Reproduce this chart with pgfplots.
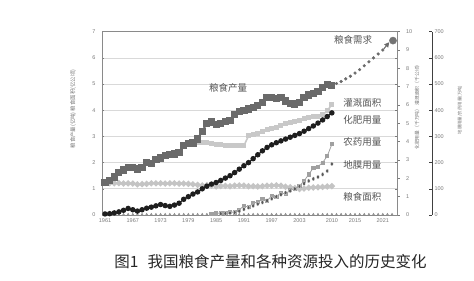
\documentclass[border=0pt]{standalone}
\usepackage{pgfplots}
\pgfplotsset{compat=1.18}
\usepackage{pgfplotstable}
\usepackage{fontspec}
\setmainfont{Liberation Sans}
\newfontfamily\cjk{Noto Sans CJK SC}
\usetikzlibrary{arrows.meta}
\definecolor{prodc}{HTML}{6A6A6A}
\definecolor{fertc}{HTML}{1E1E1E}
\definecolor{irrc}{HTML}{C8C8C8}
\definecolor{areac}{HTML}{C4C4C4}
\definecolor{pestc}{HTML}{A0A0A0}
\definecolor{filmc}{HTML}{5A5A5A}
\definecolor{demc}{HTML}{6A6A6A}
\definecolor{axg}{HTML}{7A7A7A}
\definecolor{frameg}{HTML}{8A8A8A}
\definecolor{labg}{HTML}{555555}

\pgfplotstableread{
year val
1961 1.24
1962 1.32
1963 1.45
1964 1.62
1965 1.72
1966 1.80
1967 1.82
1968 1.76
1969 1.80
1970 2.00
1971 1.96
1972 2.12
1973 2.18
1974 2.26
1975 2.30
1976 2.33
1977 2.40
1978 2.65
1979 2.72
1980 2.75
1981 2.90
1982 3.20
1983 3.50
1984 3.55
1985 3.45
1986 3.50
1987 3.58
1988 3.62
1989 3.85
1990 3.95
1991 3.98
1992 4.05
1993 4.12
1994 4.18
1995 4.30
1996 4.48
1997 4.50
1998 4.45
1999 4.50
2000 4.35
2001 4.25
2002 4.24
2003 4.30
2004 4.50
2005 4.58
2006 4.65
2007 4.72
2008 4.88
2009 4.98
2010 4.95
}\tabprod

\pgfplotstableread{
year val
2011 5.02
2012 5.10
2013 5.20
2014 5.30
2015 5.42
2016 5.55
2017 5.70
2018 5.85
2019 6.00
2020 6.15
2021 6.30
}\tabdem

\pgfplotstableread{
year val
1961 0.04
1962 0.05
1963 0.08
1964 0.12
1965 0.18
1966 0.25
1967 0.20
1968 0.15
1969 0.20
1970 0.26
1971 0.30
1972 0.35
1973 0.40
1974 0.36
1975 0.33
1976 0.38
1977 0.45
1978 0.60
1979 0.70
1980 0.80
1981 0.88
1982 1.00
1983 1.10
1984 1.18
1985 1.24
1986 1.32
1987 1.41
1988 1.50
1989 1.62
1990 1.75
1991 1.88
1992 2.00
1993 2.15
1994 2.30
1995 2.45
1996 2.58
1997 2.68
1998 2.76
1999 2.83
2000 2.90
2001 2.97
2002 3.04
2003 3.11
2004 3.20
2005 3.30
2006 3.40
2007 3.51
2008 3.63
2009 3.76
2010 3.90
}\tabfert

\pgfplotstableread{
year val
1981 2.78
1982 2.77
1983 2.75
1984 2.72
1985 2.70
1986 2.68
1987 2.66
1988 2.65
1989 2.64
1990 2.64
1991 2.65
1992 3.02
1993 3.08
1994 3.12
1995 3.18
1996 3.25
1997 3.30
1998 3.36
1999 3.42
2000 3.48
2001 3.52
2002 3.56
2003 3.62
2004 3.68
2005 3.72
2006 3.75
2007 3.78
2008 3.82
2009 3.98
2010 4.22
}\tabirr

\pgfplotstableread{
year val
1961 1.22
1962 1.22
1963 1.21
1964 1.22
1965 1.20
1966 1.21
1967 1.20
1968 1.17
1969 1.18
1970 1.19
1971 1.21
1972 1.21
1973 1.21
1974 1.20
1975 1.21
1976 1.21
1977 1.20
1978 1.20
1979 1.19
1980 1.17
1981 1.15
1982 1.13
1983 1.14
1984 1.13
1985 1.09
1986 1.11
1987 1.11
1988 1.10
1989 1.12
1990 1.13
1991 1.12
1992 1.10
1993 1.10
1994 1.09
1995 1.10
1996 1.12
1997 1.12
1998 1.13
1999 1.12
2000 1.08
2001 1.06
2002 1.03
2003 0.99
2004 1.01
2005 1.04
2006 1.05
2007 1.06
2008 1.07
2009 1.09
2010 1.10
}\tabarea

\pgfplotstableread{
year val
1984 0.04
1985 0.06
1986 0.08
1987 0.07
1988 0.12
1989 0.10
1990 0.20
1991 0.35
1992 0.30
1993 0.45
1994 0.50
1995 0.60
1996 0.55
1997 0.72
1998 0.70
1999 0.85
2000 0.80
2001 0.95
2002 1.00
2003 1.12
2004 1.30
2005 1.55
2006 1.80
2007 1.85
2008 2.00
2009 2.25
2010 2.70
}\tabpest

\pgfplotstableread{
year val
1986 0.05
1987 0.06
1988 0.08
1989 0.10
1990 0.15
1991 0.22
1992 0.28
1993 0.35
1994 0.42
1995 0.48
1996 0.55
1997 0.62
1998 0.70
1999 0.78
2000 0.85
2001 0.92
2002 1.00
2003 1.10
2004 1.20
2005 1.30
2006 1.38
2007 1.45
2008 1.55
2009 1.68
2010 1.95
}\tabfilm

\pgfplotstableread{
year val
1961 0.03
1962 0.03
1963 0.03
1964 0.03
1965 0.03
1966 0.03
1967 0.03
1968 0.03
1969 0.03
1970 0.03
1971 0.03
1972 0.03
1973 0.03
1974 0.03
1975 0.03
1976 0.03
1977 0.03
1978 0.03
1979 0.03
1980 0.03
1981 0.03
1982 0.03
1983 0.03
1984 0.03
1985 0.03
1986 0.03
1987 0.03
1988 0.03
1989 0.03
1990 0.03
1991 0.03
1992 0.03
1993 0.03
1994 0.03
1995 0.03
1996 0.03
1997 0.03
1998 0.03
1999 0.03
2000 0.03
2001 0.03
2002 0.03
2003 0.03
2004 0.03
2005 0.03
2006 0.03
2007 0.03
2008 0.03
2009 0.03
2010 0.03
2011 0.03
2012 0.03
2013 0.03
2014 0.03
2015 0.03
2016 0.03
2017 0.03
2018 0.03
2019 0.03
2020 0.03
2021 0.03
2022 0.03
2023 0.03
}\tabbase

\begin{document}
\begin{tikzpicture}[x=1pt,y=1pt]
\useasboundingbox (0,0) rectangle (474,281);
% third axis (0-700)
\begin{axis}[at={(102pt,66pt)}, anchor=south west, scale only axis,
  width=330pt, height=183.3pt, ymin=0, ymax=700,
  ytick={0,100,...,700}, axis x line=none, axis y line*=right,
  axis line style={draw=black!75, line width=0.9pt},
  tick align=inside, major tick length=3pt,
  tick style={draw=black!75, line width=0.6pt},
  yticklabel style={font=\fontsize{5.5}{6}\selectfont, text=axg, xshift=-1pt},
  /pgf/number format/assume math mode=true,
  xmin=0, xmax=1]
\end{axis}
% second axis (0-10)
\begin{axis}[at={(102pt,66pt)}, anchor=south west, scale only axis,
  width=295pt, height=183.3pt, ymin=0, ymax=10,
  ytick={0,1,...,10}, axis x line=none, axis y line*=right,
  axis line style={draw=none},
  tick align=outside, major tick length=2.5pt,
  tick style={draw=axg, line width=0.6pt},
  yticklabel style={font=\fontsize{5.5}{6}\selectfont, text=axg, xshift=3pt},
  /pgf/number format/assume math mode=true,
  xmin=0, xmax=1]
\end{axis}
% main axis
\begin{axis}[at={(102pt,66pt)}, anchor=south west, scale only axis,
  width=295pt, height=183.3pt,
  xmin=1960.35, xmax=2024.07, ymin=0, ymax=7,
  ytick={0,...,7},
  xtick={1961,1967,1973,1979,1985,1991,1997,2003,2010,2015,2021},
  xticklabels={1961,1967,1973,1979,1985,1991,1997,2003,2010,2015,2021},
  x tick label style={font=\fontsize{5.5}{6}\selectfont, text=axg},
  yticklabel style={font=\fontsize{5.5}{6}\selectfont, text=axg, xshift=-3pt},
  /pgf/number format/assume math mode=true,
  axis line style={draw=frameg, line width=0.9pt},
  xtick style={draw=none},
  ytick style={draw=axg, line width=0.6pt},
  tick align=inside, major tick length=2pt,
  ymajorgrids, grid style={draw=black!15, line width=0.7pt},
  clip=false]
\addplot[only marks, mark=triangle*, mark size=1pt, color=black!45] table[x=year,y=val]{\tabbase};
\addplot[color=areac, line width=2.2pt, mark=*, mark size=1.8pt, mark options={fill=areac, draw=areac}] table[x=year,y=val]{\tabarea};
\addplot[color=irrc, line width=1.6pt, mark=square*, mark size=1.7pt, mark options={fill=irrc, draw=irrc}] table[x=year,y=val]{\tabirr};
\addplot[color=pestc, line width=0.8pt, mark=square*, mark size=1.6pt, mark options={fill=pestc, draw=pestc}] table[x=year,y=val]{\tabpest};
\addplot[color=filmc, line width=0.8pt, only marks, mark=*, mark size=2pt, mark options={fill=filmc, draw=white, line width=0.2pt, xscale=0.7}] table[x=year,y=val]{\tabfilm};
\addplot[color=fertc, line width=1.2pt, mark=*, mark size=2.1pt, mark options={fill=fertc, draw=fertc}] table[x=year,y=val]{\tabfert};
\addplot[color=prodc, line width=2pt, mark=square*, mark size=2.6pt, mark options={fill=prodc, draw=prodc}] table[x=year,y=val]{\tabprod};
\addplot[only marks, mark=*, mark size=1.4pt, color=demc] table[x=year,y=val]{\tabdem};
\addplot[demc, line width=1pt, -{Triangle[length=5pt,width=5pt]}] coordinates {(2021.2,6.34) (2022.4,6.60)};
\addplot[only marks, mark=*, mark size=3.6pt, color=black!55] coordinates {(2023.2,6.66)};
\node[font=\cjk\fontsize{9.5}{10}\selectfont, text=labg] at (axis cs:1987.6,4.85) {粮食产量};
\node[font=\cjk\fontsize{9.5}{10}\selectfont, text=labg] at (axis cs:2014.6,6.68) {粮食需求};
\node[font=\cjk\fontsize{9.5}{10}\selectfont, text=labg] at (axis cs:2016.6,4.27) {灌溉面积};
\node[font=\cjk\fontsize{9.5}{10}\selectfont, text=labg] at (axis cs:2016.6,3.63) {化肥用量};
\node[font=\cjk\fontsize{9.5}{10}\selectfont, text=labg] at (axis cs:2016.6,2.79) {农药用量};
\node[font=\cjk\fontsize{9.5}{10}\selectfont, text=labg] at (axis cs:2016.6,1.91) {地膜用量};
\node[font=\cjk\fontsize{9.5}{10}\selectfont, text=labg] at (axis cs:2016.6,0.69) {粮食面积};
\end{axis}
% axis titles
\node[rotate=90, font=\cjk\fontsize{5.4}{6}\selectfont, text=axg] at (73,172) {粮食产量(亿吨) 粮食面积(亿公顷)};
\node[rotate=90, font=\cjk\fontsize{4.8}{6}\selectfont, text=axg] at (417,175) {化肥用量（千万吨） 灌溉面积（千公顷）};
\node[rotate=90, font=\cjk\fontsize{4.4}{6}\selectfont, text=axg] at (460,171) {地膜用量/农药用量(万吨)};
% title
\node[font=\cjk\fontsize{15.5}{17}\selectfont, text=black!85] at (270.5,19) {图1\hspace{0.6em}我国粮食产量和各种资源投入的历史变化};
\end{tikzpicture}
\end{document}
